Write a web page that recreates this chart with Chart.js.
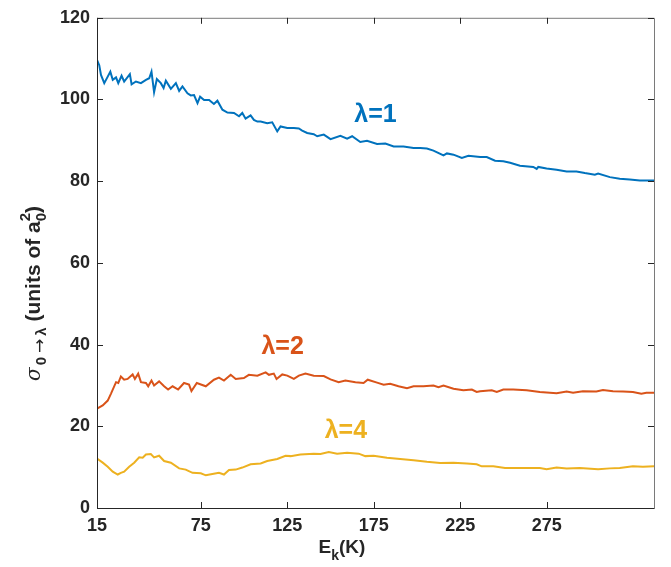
<!DOCTYPE html>
<html><head><meta charset="utf-8">
<script src="https://cdn.jsdelivr.net/npm/chart.js@4.4.0/dist/chart.umd.min.js"></script>
<style>html,body{margin:0;padding:0;background:#fff;}#wrap{width:671px;height:567px;position:relative;}</style>
</head><body><div id="wrap"><canvas id="c" width="671" height="567"></canvas></div>
<script>
// ---- data ----
const xTickValues = [15, 75, 125, 175, 225, 275];
const yTickValues = [0, 20, 40, 60, 80, 100, 120];

const lam1X = [15,16.3,17.3,19.2,21.2,22.7,24.1,26.0,27.3,29.2,30.7,34.0,35.0,37.5,40.4,43.3,45.2,46.5,48.0,49.6,51.9,53.5,54.8,57.7,60.6,62.5,64.4,67.3,69.2,71.1,73.1,74.6,76.9,79.8,82.6,84.6,87.5,90.4,94.2,97.1,99.0,100.9,103.8,105.7,107.7,109.6,113.4,116.3,119.2,121.1,125.0,128.8,131.7,133.6,136.5,140.3,142.3,146.1,150.0,155.7,159.6,162.5,167.2,171.1,176.9,181.7,186.5,192.2,198.0,201.9,205.7,209.5,215.3,217.3,221.1,225.9,229.7,236.5,240.3,245.1,249.9,253.8,259.5,267.2,269.2,270.1,274.9,280.7,286.5,292.2,297.0,302.8,304.7,311.5,317.2,323.0,328.8,332.6,337];
const lam1Y = [109.7,108.4,106,104,105.6,106.8,104.8,105.4,104,105.8,104.4,106.2,103.7,104.4,104,104.8,105.2,106.8,101.8,105,104,102.8,104.6,102.6,104,102.1,103.2,101.5,101,101.1,99.1,100.7,99.9,99.9,98.9,99.7,97.5,96.8,96.7,95.9,96.7,95.3,96.1,95,94.6,94.6,94.2,94.4,92.2,93.4,93,93,92.9,92.4,91.8,91.5,91,91.4,90.3,91.1,90.4,91,89.6,89.9,89.1,89.2,88.5,88.5,88.1,88.1,88,87.5,86.3,86.8,86.5,85.7,86.2,85.9,85.9,85,84.9,84.5,83.8,83.5,83,83.5,83.1,82.8,82.4,82.4,82,81.6,81.9,81,80.6,80.4,80.2,80.2,80.2];

const lam2X = [15,18.3,21.2,23.1,26.0,27.3,28.8,30.7,32.7,35.6,36.9,38.8,40.4,43.3,44.6,46.5,48.0,50.9,53.8,56.1,58.7,61.9,65.3,68.2,69.6,72.7,77.9,82.6,85.5,88.4,92.3,95.2,99.9,102.8,107.7,112.5,114.4,117.2,118.8,122.1,125.0,128.8,131.7,135.5,140.3,146.1,150.0,154.7,158.6,164.4,169.1,171.5,176.9,180.7,184.5,189.3,194.2,198.0,203.7,209.5,212.4,215.3,221.1,226.8,231.7,234.5,236.5,243.2,246.1,249.9,255.6,263.4,271.0,280.7,286.5,290.2,295.9,303.7,307.5,313.3,319.1,324.8,329.7,332.6,337];
const lam2Y = [24.3,25.1,26.3,28,30.8,30.6,32.2,31.4,31.6,32.7,31.6,32.9,30.8,30.6,29.8,31.2,30,31,29.8,29,29.8,29,30.6,30.2,28.6,30.6,29.8,31.4,31.9,31.2,32.6,31.6,31.8,32.6,32.4,33.2,32.6,32.9,31.6,32.7,32.4,31.6,32.4,32.9,32.4,32.3,31.5,30.8,31.2,30.8,30.6,31.4,30.7,30.2,30.4,29.8,29.3,29.8,29.8,30,29.6,30,29.2,28.8,29,28.4,28.6,28.8,28.4,29,29,28.8,28.4,28.1,28.5,28.2,28.6,28.5,28.9,28.6,28.5,28.4,28,28.2,28.2];

const lam4X = [15,18.3,21.2,24.1,27.0,28.8,30.7,33.6,36.5,39.4,41.4,43.3,46.1,48.0,50.9,53.8,57.7,62.5,66.3,70.2,75.0,77.9,81.7,85.5,88.4,91.3,95.2,99.0,103.8,109.6,113.4,119.2,124.0,126.9,132.6,140.3,144.2,149.0,153.8,159.6,166.3,170.1,174.9,182.6,190.3,198.0,205.7,213.4,221.1,228.8,234.5,237.4,244.1,250.9,259.5,271.0,274.9,280.7,286.5,294.1,304.7,311.5,317.2,324.8,330.6,337];
const lam4Y = [12.1,11.1,10.1,8.9,8.2,8.6,8.9,10.1,11.1,12.4,12.3,13.1,13.2,12.4,12.8,11.5,11.1,9.7,9.4,8.6,8.5,8,8.3,8.6,8.2,9.3,9.4,9.9,10.7,10.9,11.5,12,12.8,12.7,13.1,13.3,13.2,13.7,13.3,13.5,13.3,12.7,12.8,12.3,12,11.7,11.3,11,11.1,10.9,10.7,10.2,10.2,9.8,9.8,9.8,9.5,9.9,9.7,9.8,9.5,9.7,9.8,10.2,10.1,10.2];

const seriesLabels = ['λ=1', 'λ=2', 'λ=4'];
const labelAnchors = [[176, 96.3], [122.3, 39.3], [158.9, 18.8]]; // data-space text anchors
const colors = ['#0072BD', '#D95319', '#EDB120'];

const pts = (xs, ys) => xs.map((v, i) => ({x: v, y: ys[i]}));
const FONT = '"Liberation Sans", Arial, Helvetica, sans-serif';
const AX = '#262626';

const deco = {
  id: 'deco',
  afterDraw(chart) {
    const {ctx, chartArea: a, scales: {x, y}} = chart;
    ctx.save();
    // box
    ctx.lineWidth = 1;
    ctx.strokeStyle = '#7a7a7a';
    ctx.beginPath();
    ctx.moveTo(a.left + 0.5, a.top + 0.5); ctx.lineTo(a.right + 0.5, a.top + 0.5); ctx.lineTo(a.right + 0.5, a.bottom + 0.5);
    ctx.stroke();
    ctx.strokeStyle = AX;
    ctx.beginPath();
    ctx.moveTo(a.left + 0.5, a.top + 0.5); ctx.lineTo(a.left + 0.5, a.bottom + 0.5); ctx.lineTo(a.right + 0.5, a.bottom + 0.5);
    ctx.stroke();
    // inward ticks
    const L = 6;
    ctx.beginPath();
    xTickValues.forEach(v => {
      const p = Math.round(x.getPixelForValue(v)) + 0.5;
      ctx.moveTo(p, a.bottom); ctx.lineTo(p, a.bottom - L);
      ctx.moveTo(p, a.top); ctx.lineTo(p, a.top + L);
    });
    yTickValues.forEach(v => {
      const p = Math.round(y.getPixelForValue(v)) + 0.5;
      ctx.moveTo(a.left, p); ctx.lineTo(a.left + L, p);
      ctx.moveTo(a.right, p); ctx.lineTo(a.right - L, p);
    });
    ctx.stroke();

    // series labels
    ctx.font = 'bold 25px ' + FONT;
    ctx.textAlign = 'center';
    ctx.textBaseline = 'middle';
    seriesLabels.forEach((t, i) => {
      ctx.fillStyle = colors[i];
      ctx.fillText(t, x.getPixelForValue(labelAnchors[i][0]), y.getPixelForValue(labelAnchors[i][1]));
    });

    // x axis title: E_k(K)
    ctx.fillStyle = AX;
    ctx.textAlign = 'left';
    ctx.textBaseline = 'alphabetic';
    const big = 'bold 19px ' + FONT, small = 'bold 14px ' + FONT;
    ctx.font = big; const wE = ctx.measureText('E').width, wK = ctx.measureText('(K)').width;
    ctx.font = small; const wk = ctx.measureText('k').width;
    let sx = 342 - (wE + wk + wK) / 2;
    const by = 553;
    ctx.font = big; ctx.fillText('E', sx, by); sx += wE;
    ctx.font = small; ctx.fillText('k', sx, by + 7); sx += wk;
    ctx.font = big; ctx.fillText('(K)', sx, by);

    // y axis title
    ctx.save();
    ctx.translate(40, 381);
    ctx.rotate(-Math.PI / 2);
    let tx = 0;
    const put = (t, f, dy, gap) => { ctx.font = f; ctx.fillText(t, tx, dy); tx += ctx.measureText(t).width + (gap || 0); };
    put('σ', 'italic 20px "DejaVu Serif", serif', 0, 2);
    put('0', 'bold 15px ' + FONT, 6, 4);
    put('→', '17px "DejaVu Sans", sans-serif', 5, 3);
    put('λ', 'bold 15px ' + FONT, 6, 0);
    const yb = 'bold 21px ' + FONT;
    put(' (units of a', yb, 0, 0);
    ctx.font = 'bold 15px ' + FONT;
    ctx.fillText('2', tx, -10);
    put('0', 'bold 15px ' + FONT, 6, 0);
    put(')', yb, 0, 0);
    ctx.restore();

    ctx.restore();
  }
};

new Chart(document.getElementById('c'), {
  type: 'line',
  data: {
    datasets: [
      {label: seriesLabels[0], data: pts(lam1X, lam1Y), borderColor: colors[0]},
      {label: seriesLabels[1], data: pts(lam2X, lam2Y), borderColor: colors[1]},
      {label: seriesLabels[2], data: pts(lam4X, lam4Y), borderColor: colors[2]}
    ]
  },
  options: {
    responsive: false,
    animation: false,
    devicePixelRatio: 1,
    layout: {padding: {top: 16, right: 17, left: 0, bottom: 0}},
    elements: {point: {radius: 0}, line: {borderWidth: 2, tension: 0}},
    plugins: {legend: {display: false}, tooltip: {enabled: false}},
    scales: {
      x: {
        type: 'linear', min: 15, max: 337,
        afterBuildTicks: s => { s.ticks = xTickValues.map(v => ({value: v})); },
        afterFit: s => { s.height = 59; },
        grid: {display: false, drawTicks: false},
        border: {display: false},
        ticks: {padding: 7, maxRotation: 0, autoSkip: false, color: AX, font: {family: FONT, size: 18, weight: 'bold'}}
      },
      y: {
        min: 0, max: 120,
        afterBuildTicks: s => { s.ticks = yTickValues.map(v => ({value: v})); },
        afterFit: s => { s.width = 97; },
        grid: {display: false, drawTicks: false},
        border: {display: false},
        ticks: {padding: 7, color: AX, font: {family: FONT, size: 18, weight: 'bold'}}
      }
    }
  },
  plugins: [deco]
});
</script></body></html>
